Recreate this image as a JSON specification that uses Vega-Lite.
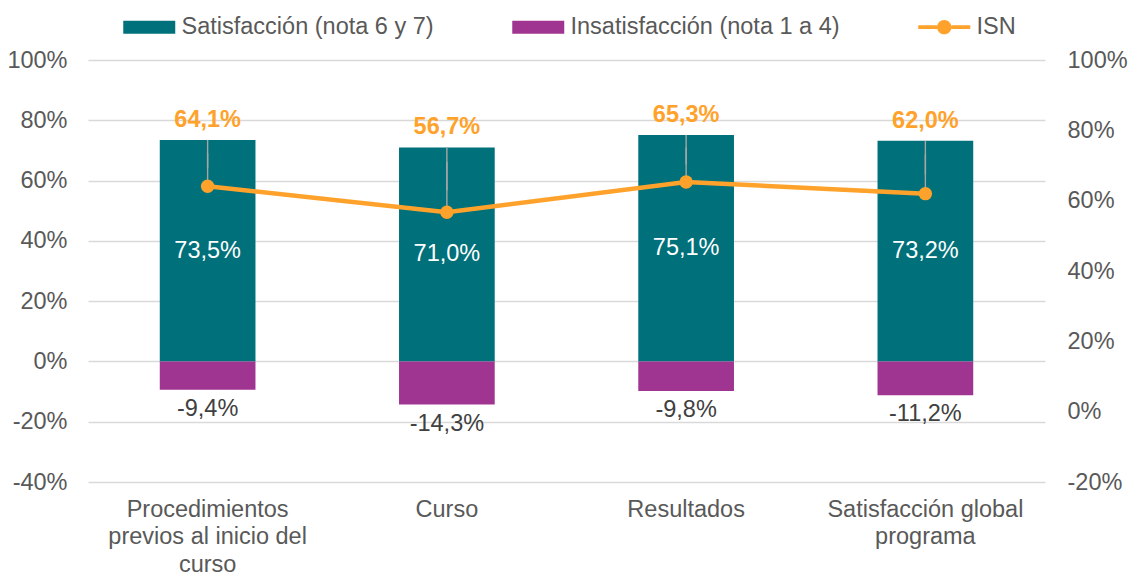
{
  "$schema": "https://vega.github.io/schema/vega-lite/v6.json",
  "width": 957,
  "height": 422,
  "autosize": "none",
  "padding": {"left": 88, "top": 60, "right": 83, "bottom": 92},
  "background": "white",
  "datasets": {
    "barras": [
      {"categoria": "Procedimientos previos al inicio del curso", "serie": "Satisfacción (nota 6 y 7)", "valor": 0.735},
      {"categoria": "Procedimientos previos al inicio del curso", "serie": "Insatisfacción (nota 1 a 4)", "valor": -0.094},
      {"categoria": "Curso", "serie": "Satisfacción (nota 6 y 7)", "valor": 0.710},
      {"categoria": "Curso", "serie": "Insatisfacción (nota 1 a 4)", "valor": -0.143},
      {"categoria": "Resultados", "serie": "Satisfacción (nota 6 y 7)", "valor": 0.751},
      {"categoria": "Resultados", "serie": "Insatisfacción (nota 1 a 4)", "valor": -0.098},
      {"categoria": "Satisfacción global programa", "serie": "Satisfacción (nota 6 y 7)", "valor": 0.732},
      {"categoria": "Satisfacción global programa", "serie": "Insatisfacción (nota 1 a 4)", "valor": -0.112}
    ],
    "isn": [
      {"categoria": "Procedimientos previos al inicio del curso", "serie": "ISN", "isn": 0.641, "satisfaccion": 0.735},
      {"categoria": "Curso", "serie": "ISN", "isn": 0.567, "satisfaccion": 0.710},
      {"categoria": "Resultados", "serie": "ISN", "isn": 0.653, "satisfaccion": 0.751},
      {"categoria": "Satisfacción global programa", "serie": "ISN", "isn": 0.620, "satisfaccion": 0.732}
    ]
  },
  "config": {
    "locale": {"number": {"decimal": ",", "thousands": ".", "grouping": [3], "currency": ["", " €"], "minus": "-"}},
    "font": "Liberation Sans",
    "view": {"stroke": null},
    "axis": {
      "labelFont": "Liberation Sans",
      "labelFontSize": 23.5,
      "labelColor": "#595959",
      "domain": false,
      "ticks": false,
      "tickSize": 0,
      "gridColor": "#D9D9D9",
      "gridWidth": 1.5
    },
    "legend": {
      "orient": "top",
      "direction": "horizontal",
      "labelFont": "Liberation Sans",
      "labelFontSize": 23.5,
      "labelColor": "#595959",
      "labelLimit": 400,
      "symbolSize": 169,
      "symbolStrokeWidth": 0,
      "symbolOpacity": 1,
      "labelOffset": 40,
      "columnPadding": 73,
      "offset": 21,
      "layout": {"top": {"anchor": "middle"}}
    },
    "text": {"font": "Liberation Sans", "fontSize": 23.5}
  },
  "layer": [
    {
      "layer": [
        {
          "data": {"name": "barras"},
          "mark": {"type": "bar"},
          "encoding": {
            "x": {
              "field": "categoria", "type": "nominal", "title": null,
              "scale": {"domain": ["Procedimientos previos al inicio del curso", "Curso", "Resultados", "Satisfacción global programa"], "paddingInner": 0.6, "paddingOuter": 0.3},
              "axis": {
                "labelAngle": 0, "labelPadding": 15, "labelLineHeight": 27.5, "labelLimit": 400, "labelBaseline": "top",
                "labelExpr": "datum.value == 'Procedimientos previos al inicio del curso' ? ['Procedimientos', 'previos al inicio del', 'curso'] : datum.value == 'Satisfacción global programa' ? ['Satisfacción global', 'programa'] : datum.label"
              }
            },
            "y": {
              "field": "valor", "type": "quantitative", "title": null,
              "scale": {"domain": [-0.4, 1.0], "nice": false},
              "axis": {"values": [-0.4, -0.2, 0, 0.2, 0.4, 0.6, 0.8, 1.0], "format": ".0%", "grid": true, "labelPadding": 21}
            },
            "color": {
              "field": "serie", "type": "nominal",
              "scale": {"domain": ["Satisfacción (nota 6 y 7)", "Insatisfacción (nota 1 a 4)", "ISN"], "range": ["#00707A", "#A03591", "#FFA22B"]},
              "legend": {"title": null}
            }
          }
        },
        {
          "data": {"name": "barras"},
          "transform": [{"filter": {"field": "serie", "equal": "Insatisfacción (nota 1 a 4)"}}],
          "mark": {"type": "text", "baseline": "middle", "dy": 19, "color": "#404040"},
          "encoding": {
            "x": {"field": "categoria", "type": "nominal", "title": null},
            "y": {"field": "valor", "type": "quantitative", "title": null},
            "text": {"field": "valor", "type": "quantitative", "format": ".1%"}
          }
        },
        {
          "data": {"name": "isn"},
          "mark": {"type": "rule", "color": "#A6A6A6", "strokeWidth": 1.4},
          "encoding": {
            "x": {"field": "categoria", "type": "nominal", "title": null},
            "y": {"field": "satisfaccion", "type": "quantitative", "title": null},
            "y2": {"field": "isn"}
          }
        },
        {
          "data": {"name": "isn"},
          "mark": {"type": "text", "baseline": "middle", "dy": -20, "color": "#FFA22B", "fontWeight": "bold"},
          "encoding": {
            "x": {"field": "categoria", "type": "nominal", "title": null},
            "y": {"field": "satisfaccion", "type": "quantitative", "title": null},
            "text": {"field": "isn", "type": "quantitative", "format": ".1%"}
          }
        }
      ]
    },
    {
      "layer": [
        {
          "data": {"name": "barras"},
          "transform": [{"filter": {"field": "serie", "equal": "Satisfacción (nota 6 y 7)"}}],
          "mark": {"type": "text", "baseline": "middle", "color": "white"},
          "encoding": {
            "x": {"field": "categoria", "type": "nominal", "title": null},
            "y": {"field": "valor", "type": "quantitative", "title": null, "scale": {"domain": [-0.8, 2.0], "nice": false}, "axis": null},
            "text": {"field": "valor", "type": "quantitative", "format": ".1%"}
          }
        }
      ]
    },
    {
      "layer": [
        {
          "data": {"name": "isn"},
          "mark": {"type": "rule", "color": "#A6A6A6", "strokeWidth": 1.4},
          "encoding": {
            "x": {"field": "categoria", "type": "nominal", "title": null},
            "y": {
              "field": "isn", "type": "quantitative", "title": null,
              "scale": {"domain": [-0.2, 1.0], "nice": false},
              "axis": {"orient": "right", "values": [-0.2, 0, 0.2, 0.4, 0.6, 0.8, 1.0], "format": ".0%", "grid": false, "labelPadding": 22}
            },
            "y2": {"field": "satisfaccion"}
          }
        },
        {
          "data": {"name": "isn"},
          "mark": {"type": "line", "color": "#FFA22B", "strokeWidth": 4.5},
          "encoding": {
            "x": {"field": "categoria", "type": "nominal", "title": null},
            "y": {"field": "isn", "type": "quantitative", "title": null}
          }
        },
        {
          "data": {"name": "isn"},
          "mark": {"type": "point", "filled": true, "opacity": 1, "color": "#FFA22B", "size": 180},
          "encoding": {
            "x": {"field": "categoria", "type": "nominal", "title": null},
            "y": {"field": "isn", "type": "quantitative", "title": null}
          }
        },
        {
          "data": {"name": "isn"},
          "transform": [{"filter": "false"}],
          "mark": {"type": "point", "filled": true, "opacity": 1},
          "encoding": {
            "x": {"field": "categoria", "type": "nominal", "title": null},
            "y": {"field": "isn", "type": "quantitative", "title": null},
            "color": {
              "field": "serie", "type": "nominal",
              "scale": {"domain": ["Satisfacción (nota 6 y 7)", "Insatisfacción (nota 1 a 4)", "ISN"], "range": ["#00707A", "#A03591", "#FFA22B"]},
              "legend": {"title": null}
            },
            "shape": {
              "field": "serie", "type": "nominal",
              "scale": {"domain": ["Satisfacción (nota 6 y 7)", "Insatisfacción (nota 1 a 4)", "ISN"], "range": ["M-1,-1L7,-1L7,1L-1,1Z", "M-1,-1L7,-1L7,1L-1,1Z", "M-1,-0.3L1.9,-0.3L1.9,0.3L-1,0.3Z M4.1,-0.3L7,-0.3L7,0.3L4.1,0.3Z M1.9,0A1.1,1.1,0,1,1,4.1,0A1.1,1.1,0,1,1,1.9,0Z"]},
              "legend": {"title": null}
            }
          }
        }
      ]
    }
  ],
  "resolve": {"scale": {"y": "independent"}}
}
